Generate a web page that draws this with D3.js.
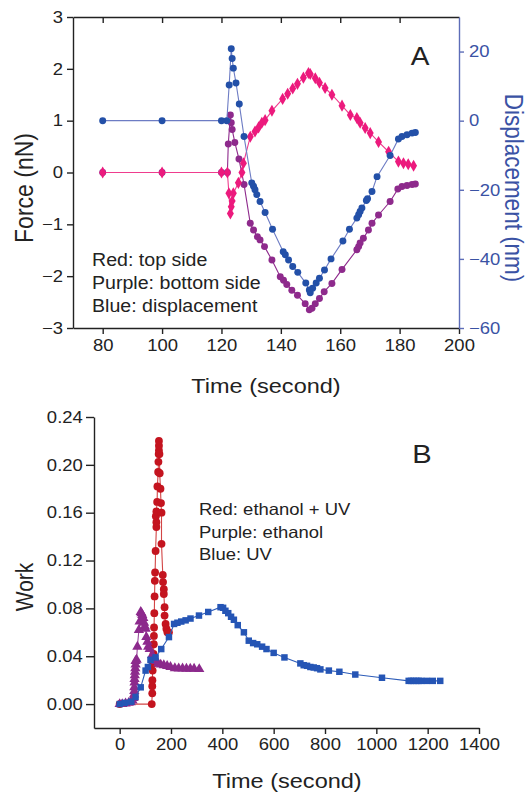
<!DOCTYPE html>
<html>
<head>
<meta charset="utf-8">
<script src="https://cdn.jsdelivr.net/npm/d3@7"></script>
<style>
body { margin: 0; background: #fff; }
svg text { font-family: "Liberation Sans", Arial, sans-serif; font-weight: 400; }
</style>
</head>
<body>
<svg id="chart" width="529" height="794"></svg>
<script>
// ---- panel A data: [time (s), value] ----
const topRed = [[80,0],[100,0],[120,0],[122,0],[122.5,-0.40],[123,-0.79],[123.3,-0.66],[123.6,-0.55],[124,-0.40],
  [125.7,-0.20],[126.9,0],[127.4,0.18],[129.7,0.69],[131.3,0.79],[132.5,0.87],[133.6,0.96],[134.7,1.01],[137.0,1.19],
  [140.6,1.42],[142.3,1.52],[144.0,1.62],[145.6,1.71],[147.6,1.83],[149.3,1.92],[149.9,1.90],[151.6,1.82],[153.0,1.73],
  [154.9,1.63],[157.2,1.50],[160.6,1.29],[163.4,1.11],[165.6,1.05],[166.7,0.96],[168.4,0.86],[170.1,0.76],[172.9,0.59],
  [176.3,0.40],[179.6,0.21],[181.3,0.18],[182.9,0.16],[184.7,0.13]];
const topPurple = [[80,0],[100,0],[120,0],[122,0],[122.3,0.55],[123,1.11],[123.3,0.96],[123.6,0.83],[124.5,0.58],
  [125.9,0.26],[127.6,-0.23],[129.7,-0.98],[130.8,-1.11],[132.1,-1.24],[133.0,-1.30],[134.5,-1.43],[137.0,-1.69],
  [139.8,-2.01],[140.9,-2.08],[142.0,-2.16],[143.7,-2.27],[145.6,-2.37],[148.2,-2.53],[149.6,-2.65],[150.5,-2.62],
  [151.6,-2.53],[153.0,-2.43],[154.6,-2.30],[157.2,-2.14],[160.6,-1.87],[165.6,-1.49],[166.2,-1.43],[166.7,-1.36],
  [167.8,-1.27],[169.5,-1.11],[170.7,-0.98],[172.9,-0.82],[176.8,-0.56],[179.4,-0.32],[180.8,-0.27],[182.5,-0.25],
  [184.2,-0.23],[185.3,-0.22]];
const topBlue = [[80,0],[100,0],[120,0],[121.8,0],[122.6,10.3],[123.3,20.8],[123.6,18],[124,15.2],[124.9,10.9],
  [126,4.8],[127.6,-4.6],[130.2,-18],[130.8,-19],[131.3,-20],[131.9,-21.4],[133.0,-23.4],[134.7,-26.6],[137.2,-31.4],
  [140.8,-37.9],[141.5,-38.8],[142.6,-40.3],[144.0,-42.2],[145.7,-43.9],[148.4,-47.0],[149.6,-49.0],[149.9,-49.8],
  [150.7,-48.5],[151.9,-47.0],[153.0,-45.6],[154.7,-43.2],[156.9,-40.0],[160.9,-34.8],[163.1,-31.4],[165.6,-28.2],
  [166.2,-27.2],[166.7,-26.3],[167.3,-25.3],[168.8,-23.1],[169.2,-22.6],[170.7,-20.5],[172.4,-16.2],[176.8,-10.1],
  [179.6,-5.3],[180.8,-4.6],[182.5,-4.1],[184.2,-3.6],[185.3,-3.4]];
const timeTicksA = [80,100,120,140,160,180,200];
const forceTicks = [-3,-2,-1,0,1,2,3];
const dispTicks = [-60,-40,-20,0,20];
const legendA = ["Red: top side","Purple: bottom side","Blue: displacement"];

// ---- panel B data: [time (s), work] ----
const workRed = [[0,0],[125,0],[127,0.009],[127,0.015],[127.5,0.02],[128.5,0.028],[130,0.034],[132,0.042],[133,0.05],
  [133.5,0.057],[134,0.064],[135,0.076],[136,0.09],[137,0.103],[138,0.11],[140,0.128],[143,0.148],[143,0.152],
  [141,0.157],[143,0.161],[146,0.169],[147,0.182],[150,0.194],[151,0.2025],[152,0.209],[153,0.212],[153,0.216],
  [153,0.22],[155,0.209],[156,0.193],[159,0.18],[161,0.168],[163,0.16],[163,0.134],[168,0.108],[169,0.102],
  [172,0.096],[172,0.092],[175,0.081],[175,0.074],[179,0.067],[182,0.063],[186,0.060],[192,0.06]];
const workPurple = [[0,0],[10,0],[23,0.0005],[35,0.001],[43,0.0015],[50,0.003],[54,0.005],[56,0.008],[57,0.011],
  [57,0.014],[58,0.018],[58,0.021],[59,0.024],[60,0.027],[61,0.030],[62,0.033],[62,0.036],[66,0.037],[69,0.048],
  [75,0.062],[78,0.069],[82,0.077],[85,0.076],[88,0.0745],[92,0.072],[95,0.068],[98,0.065],[101,0.063],[104,0.056],
  [108,0.052],[111,0.048],[117,0.046],[127,0.041],[135,0.038],[142,0.036],[150,0.034],[160,0.033],[172,0.0325],
  [185,0.0318],[198,0.031],[215,0.030],[230,0.0298],[245,0.0297],[260,0.0296],[275,0.0296],[290,0.0295],[310,0.0292]];
const workBlue = [[0,0],[20,0.001],[45,0.002],[62,0.006],[82,0.014],[101,0.028],[110,0.031],[120,0.037],[140,0.039],
  [162,0.046],[192,0.056],[212,0.067],[225,0.068],[240,0.069],[257,0.070],[276,0.0715],[309,0.074],[345,0.077],
  [393,0.081],[403,0.0805],[412,0.078],[423,0.076],[434,0.073],[445,0.0705],[460,0.066],[484,0.060],[503,0.053],
  [520,0.051],[536,0.050],[555,0.048],[572,0.046],[600,0.0428],[642,0.039],[704,0.034],[717,0.0325],[730,0.032],
  [743,0.031],[756,0.0306],[769,0.030],[782,0.029],[815,0.028],[856,0.027],[918,0.0247],[1022,0.022],[1126,0.0194],
  [1135,0.0194],[1145,0.0194],[1155,0.0194],[1165,0.0194],[1175,0.0194],[1197,0.0194],[1220,0.0194],[1249,0.0194]];
const timeTicksB = [0,200,400,600,800,1000,1200,1400];
const workTicks = [0,0.04,0.08,0.12,0.16,0.20,0.24];
const legendB = ["Red: ethanol + UV","Purple: ethanol","Blue: UV"];

const SX = 1.12;   // glyphs in the picture are a bit wide
const ink = "#222";
const svg = d3.select("#chart");

function styleAxis(g, color, size) {
  g.attr("font-family", null).attr("font-size", null);
  g.select(".domain").attr("stroke", color).attr("stroke-width", 1.4);
  g.selectAll(".tick line").attr("stroke", color).attr("stroke-width", 1.4);
  g.selectAll(".tick text").attr("fill", color).style("font-size", size + "px")
    .attr("transform", `scale(${SX},1)`);
}

function text(x, y, str, size, opts = {}) {
  const rot = opts.rotate ? ` rotate(${opts.rotate})` : "";
  return svg.append("text")
    .attr("transform", `translate(${x},${y}) scale(${SX},1)${rot}`)
    .attr("text-anchor", opts.anchor || "start")
    .attr("fill", opts.color || ink)
    .style("font-size", size + "px")
    .text(str);
}

function series(data, x, y, color, lineColor, symbol, size) {
  svg.append("path").datum(data)
    .attr("fill", "none").attr("stroke", lineColor).attr("stroke-width", 1.1)
    .attr("d", d3.line().x(d => x(d[0])).y(d => y(d[1])));
  svg.append("g").selectAll("path").data(data).join("path")
    .attr("d", d3.symbol(symbol, size))
    .attr("transform", d => `translate(${x(d[0])},${y(d[1])})`)
    .attr("fill", color);
}

// ---------- panel A ----------
const xA = d3.scaleLinear().domain([70, 200]).range([73, 459]);
const yForce = d3.scaleLinear().domain([-3, 3]).range([328, 17]);
const yDisp = d3.scaleLinear().domain([-60, 30]).range([328, 17]);

series(topPurple, xA, yForce, "#8e2a8c", "#8e2a8c", d3.symbolCircle, 38);
series(topRed, xA, yForce, "#ec1a7d", "#ef3d8e", d3.symbolDiamond, 42);
series(topBlue, xA, yDisp, "#2350a8", "#6d7cc4", d3.symbolCircle, 38);

svg.append("g").attr("transform", "translate(0,328)")
  .call(d3.axisBottom(xA).tickValues(timeTicksA).tickFormat(d3.format("d")).tickSize(6).tickPadding(5).tickSizeOuter(0))
  .call(g => styleAxis(g, ink, 16.5));
svg.append("g").attr("transform", "translate(73,0)")
  .call(d3.axisLeft(yForce).tickValues(forceTicks).tickFormat(d3.format("d")).tickSize(6).tickPadding(3).tickSizeOuter(0))
  .call(g => styleAxis(g, ink, 16.5));
svg.append("g").attr("transform", "translate(0,17)")
  .call(d3.axisTop(xA).tickValues(timeTicksA.slice(0, -1)).tickSize(-6).tickFormat("").tickSizeOuter(0))
  .call(g => styleAxis(g, ink, 16.5));
svg.append("g").attr("transform", "translate(459,0)")
  .call(d3.axisRight(yDisp).tickValues(dispTicks).tickFormat(d3.format("d")).tickSize(5).tickPadding(4).tickSizeOuter(0))
  .call(g => styleAxis(g, "#5d6db8", 16.5))
  .call(g => g.selectAll(".tick text").attr("fill", "#3a52a4"));

text(266, 393, "Time (second)", 21, { anchor: "middle" });
text(33, 188, "Force (nN)", 23, { anchor: "middle", rotate: -90 });
text(505, 188, "Displacement (nm)", 22.5, { anchor: "middle", rotate: 90, color: "#3a52a4" });
text(420, 65, "A", 25, { anchor: "middle" });
legendA.forEach((s, i) => text(92, 266 + i * 23, s, 17.5));

// ---------- panel B ----------
const xB = d3.scaleLinear().domain([-100, 1400]).range([94, 479]);
const yWork = d3.scaleLinear().domain([-0.02, 0.24]).range([728, 417]);

series(workRed, xB, yWork, "#c4141f", "#d24545", d3.symbolCircle, 48);
series(workPurple, xB, yWork, "#8c2a8c", "#9a4a9c", d3.symbolTriangle, 46);
series(workBlue, xB, yWork, "#2555b5", "#2d5cb8", d3.symbolSquare, 42);

svg.append("g").attr("transform", "translate(0,728)")
  .call(d3.axisBottom(xB).tickValues(timeTicksB).tickFormat(d3.format("d")).tickSize(6).tickPadding(4).tickSizeOuter(0))
  .call(g => styleAxis(g, ink, 16.5));
svg.append("g").attr("transform", "translate(94,0)")
  .call(d3.axisLeft(yWork).tickValues(workTicks).tickFormat(d3.format(".2f")).tickSize(8).tickPadding(2).tickSizeOuter(0))
  .call(g => styleAxis(g, ink, 16.5));

text(287, 788, "Time (second)", 21, { anchor: "middle" });
text(33, 587, "Work", 21, { anchor: "middle", rotate: -90 });
text(422, 463, "B", 26, { anchor: "middle" });
legendB.forEach((s, i) => text(199, 515 + i * 22.5, s, 16.5));
</script>
</body>
</html>
